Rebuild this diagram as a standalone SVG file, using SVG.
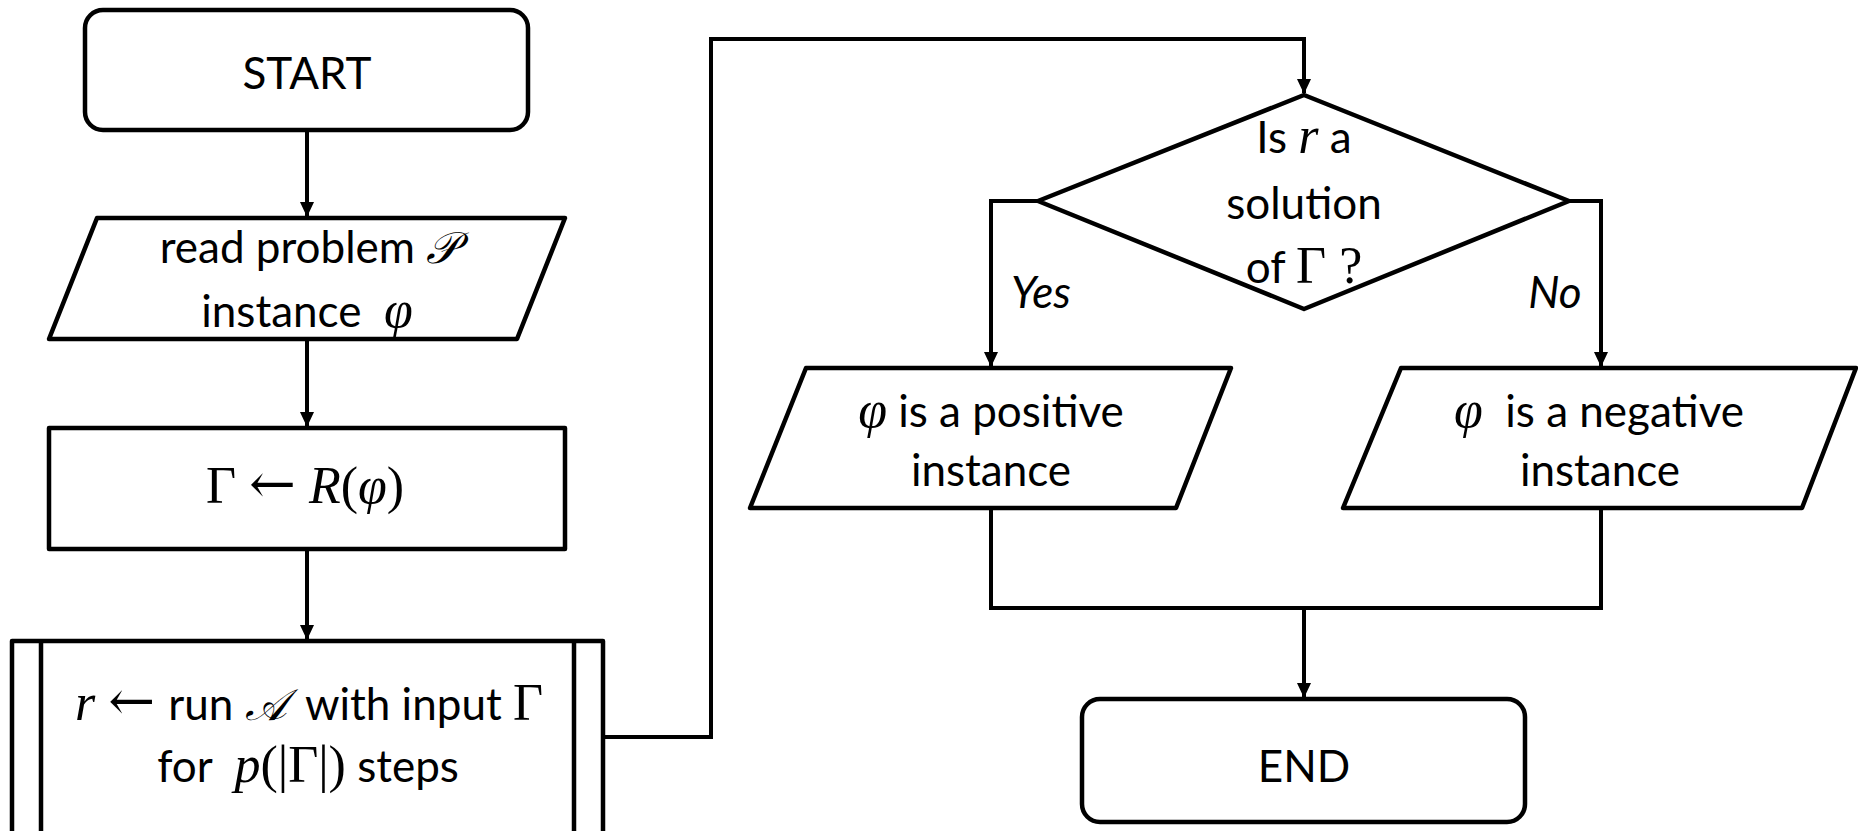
<svg xmlns="http://www.w3.org/2000/svg" width="1858" height="831" viewBox="0 0 1858 831">
<defs>
<style>
.shape{fill:#fff;stroke:#000;stroke-width:4.5;stroke-linejoin:round}
.conn{fill:none;stroke:#000;stroke-width:4}
.t{font-family:Lato,"Open Sans",sans-serif;font-size:44px;fill:#000;text-anchor:middle}
.m{font-family:"Liberation Serif",serif;font-style:italic;font-size:52px}
.u{font-family:"Liberation Serif",serif;font-style:normal;font-size:52px}
.a{font-family:"DejaVu Serif",serif;font-style:normal;font-size:56px}
.s{font-family:"DejaVu Serif","DejaVu Sans",serif;font-style:italic;font-size:44px}
.i{font-style:italic}
</style>
<marker id="arr" markerUnits="userSpaceOnUse" markerWidth="16" markerHeight="20" refX="14" refY="7" orient="auto">
<path d="M0,0 L15,7 L0,14 Z" fill="#000"/>
</marker>
</defs>
<rect width="1858" height="831" fill="#fff"/>
<g id="connectors">
<path class="conn" d="M307,130 L307,216" marker-end="url(#arr)"/>
<path class="conn" d="M307,339 L307,426" marker-end="url(#arr)"/>
<path class="conn" d="M307,549 L307,639" marker-end="url(#arr)"/>
<path class="conn" d="M603,737 L711,737 L711,39 L1304,39 L1304,93" marker-end="url(#arr)"/>
<path class="conn" d="M1038,201 L991,201 L991,366" marker-end="url(#arr)"/>
<path class="conn" d="M1569,201 L1601,201 L1601,366" marker-end="url(#arr)"/>
<path class="conn" d="M991,508 L991,608 L1601,608 L1601,508"/>
<path class="conn" d="M1304,608 L1304,697" marker-end="url(#arr)"/>
</g>
<g id="start">
<rect class="shape" x="85" y="10" width="443" height="120" rx="18"/>
<text class="t" x="307" y="89">START</text>
</g>
<g id="read">
<polygon class="shape" points="97,218 565,218 517,339 49,339"/>
<text class="t" x="309" y="263">read problem <tspan class="s">𝒫</tspan></text>
<text class="t" x="307" y="327" xml:space="preserve">instance  <tspan class="m">φ</tspan></text>
</g>
<g id="reduce">
<rect class="shape" x="49" y="428" width="516" height="121"/>
<text class="t" x="305" y="503" xml:space="preserve"><tspan class="u">Γ </tspan><tspan class="a">←</tspan><tspan class="u"> </tspan><tspan class="m">R</tspan><tspan class="u">(</tspan><tspan class="m">φ</tspan><tspan class="u">)</tspan></text>
</g>
<g id="run">
<rect class="shape" x="12" y="641" width="591" height="200"/>
<line class="shape" x1="41" y1="641" x2="41" y2="841"/>
<line class="shape" x1="574" y1="641" x2="574" y2="841"/>
<text class="t" x="309" y="720" xml:space="preserve"><tspan class="m">r</tspan><tspan class="u"> </tspan><tspan class="a">←</tspan><tspan class="u"> </tspan>run <tspan class="s">𝒜</tspan><tspan dx="8"> with input </tspan><tspan class="u">Γ</tspan></text>
<text class="t" x="308" y="782" xml:space="preserve">for  <tspan class="m">p</tspan><tspan class="u">(|Γ|)</tspan> steps</text>
</g>
<g id="decision">
<polygon class="shape" points="1304,95 1569,201 1304,309 1038,201"/>
<text class="t" x="1304" y="153">Is <tspan class="m">r</tspan> a</text>
<text class="t" x="1304" y="219">solution</text>
<text class="t" x="1304" y="283">of <tspan class="u">Γ ?</tspan></text>
</g>
<g id="labels">
<text class="t i" x="1041" y="308">Yes</text>
<text class="t i" x="1555" y="308">No</text>
</g>
<g id="positive">
<polygon class="shape" points="806,368 1231,368 1176,508 750,508"/>
<text class="t" x="991" y="427"><tspan class="m">φ</tspan> is a positive</text>
<text class="t" x="991" y="486">instance</text>
</g>
<g id="negative">
<polygon class="shape" points="1401,368 1856,368 1802,508 1343,508"/>
<text class="t" x="1599" y="427" xml:space="preserve"><tspan class="m">φ</tspan>  is a negative</text>
<text class="t" x="1600" y="486">instance</text>
</g>
<g id="end">
<rect class="shape" x="1082" y="699" width="443" height="123" rx="18"/>
<text class="t" x="1304" y="782">END</text>
</g>
</svg>
